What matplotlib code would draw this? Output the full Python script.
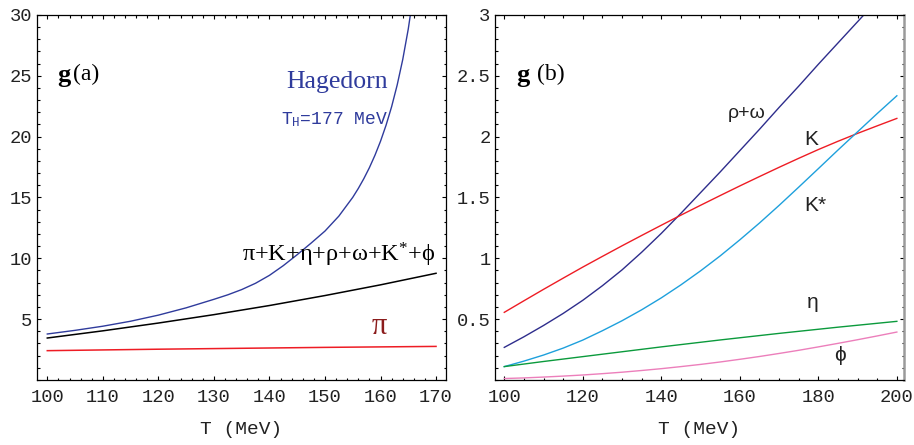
import matplotlib
matplotlib.use("Agg")
import matplotlib.pyplot as plt
from matplotlib.ticker import MultipleLocator, FixedLocator

plt.rcParams['mathtext.fontset'] = 'custom'
plt.rcParams['mathtext.rm'] = 'Liberation Serif'
plt.rcParams['mathtext.it'] = 'Liberation Serif:italic'
plt.rcParams['mathtext.bf'] = 'Liberation Serif:bold'

# ---------------- data: panel (a) ----------------
T_hag = [100, 105, 110, 115, 120, 125, 127.5, 130, 132.5, 135, 137.5, 140, 142.5,
         145, 147.5, 150, 152.5, 155, 156, 157, 158, 159, 160, 161, 162, 163,
         164, 165, 166]
g_hag = [3.78, 4.08, 4.42, 4.83, 5.33, 5.93, 6.28, 6.63, 7.00, 7.43, 7.95, 8.60,
         9.40, 10.30, 11.25, 12.24, 13.47, 15.01, 15.74, 16.55, 17.45, 18.47,
         19.62, 20.94, 22.46, 24.24, 26.33, 28.85, 31.93]

T_a = [100, 110, 120, 130, 140, 150, 160, 170]
g_sum = [3.45, 4.04, 4.68, 5.37, 6.12, 6.94, 7.82, 8.77]
g_pi = [2.41, 2.47, 2.53, 2.58, 2.63, 2.68, 2.72, 2.76]

xticks_a = [100, 110, 120, 130, 140, 150, 160, 170]
yticks_a = [5, 10, 15, 20, 25, 30]

# ---------------- data: panel (b) ----------------
T_b = [100, 105, 110, 115, 120, 125, 130, 135, 140, 145, 150, 155, 160, 165,
       170, 175, 180, 185, 190, 195, 200]
g_K = [0.556, 0.651, 0.745, 0.837, 0.928, 1.016, 1.103, 1.188, 1.272, 1.355,
       1.436, 1.516, 1.595, 1.672, 1.748, 1.822, 1.894, 1.962, 2.027, 2.089, 2.15]
g_Kstar = [0.11, 0.155, 0.205, 0.262, 0.328, 0.405, 0.487, 0.577, 0.675, 0.782,
           0.897, 1.02, 1.152, 1.29, 1.435, 1.585, 1.737, 1.89, 2.04, 2.19, 2.336]
g_eta = [0.11, 0.131, 0.152, 0.172, 0.192, 0.212, 0.232, 0.252, 0.272, 0.291,
         0.31, 0.329, 0.347, 0.365, 0.383, 0.40, 0.417, 0.434, 0.45, 0.466, 0.482]
g_phi = [0.012, 0.017, 0.024, 0.032, 0.041, 0.052, 0.064, 0.078, 0.093, 0.110,
         0.128, 0.148, 0.170, 0.193, 0.218, 0.244, 0.272, 0.301, 0.331, 0.362, 0.394]
T_rho = [100, 105, 110, 115, 120, 125, 130, 135, 140, 145, 150, 155, 160, 165,
         170, 175, 180, 185, 190, 195]
g_rho = [0.268, 0.355, 0.448, 0.547, 0.655, 0.775, 0.905, 1.05, 1.205, 1.37,
         1.54, 1.71, 1.885, 2.06, 2.24, 2.415, 2.595, 2.77, 2.945, 3.12]

xticks_b = [100, 120, 140, 160, 180, 200]
yticks_b = [0.5, 1, 1.5, 2, 2.5, 3]
yticklabels_b = ["0.5", "1", "1.5", "2", "2.5", "3"]

# colours
c_hag = '#2f3b9c'
c_red = '#ee1c24'
c_pilab = '#8b1c1c'
c_rho = '#2e2d8c'
c_kstar = '#1ea0dc'
c_eta = '#0b9a3c'
c_phi = '#ec7fbb'

mono = 'Liberation Mono'
serif = ['Liberation Serif', 'DejaVu Serif']
sans = ['Liberation Sans', 'DejaVu Sans']

fig = plt.figure(figsize=(9.14, 4.45), dpi=100)
axA = fig.add_axes([0.0402, 0.1461, 0.4478, 0.8202])
axB = fig.add_axes([0.5412, 0.1461, 0.4482, 0.8202])


def style(ax):
    ax.tick_params(which='both', direction='in', top=True, right=True,
                   width=0.8, colors='black')
    ax.tick_params(which='major', length=3.2, pad=3)
    ax.tick_params(which='minor', length=1.8)
    ax.tick_params(axis='x', which='major', pad=6.5)
    for lab in ax.get_xticklabels() + ax.get_yticklabels():
        lab.set_fontfamily(mono)
        lab.set_fontsize(13.5)
        lab.set_color('#222222')
    for s in ax.spines.values():
        s.set_linewidth(0.9)


# ---- panel (a)
axA.plot(T_hag, g_hag, color=c_hag, lw=1.0)
axA.plot(T_a, g_sum, color='black', lw=1.1)
axA.plot(T_a, g_pi, color=c_red, lw=1.1)
axA.set_xlim(98.1, 171.8)
axA.set_ylim(0, 30)
axA.xaxis.set_major_locator(FixedLocator(xticks_a))
axA.xaxis.set_minor_locator(MultipleLocator(2))
axA.yaxis.set_major_locator(FixedLocator(yticks_a))
axA.yaxis.set_minor_locator(MultipleLocator(1))
axA.set_xticklabels([str(v) for v in xticks_a])
axA.set_yticklabels([str(v) for v in yticks_a])
style(axA)
axA.set_xlabel('T (MeV)', fontfamily=mono, fontsize=14, labelpad=11, color='#222222')

axA.text(101.7, 25.0, r'$\mathbf{g}$', fontsize=19, va='center', ha='left')
axA.text(104.7, 25.1, '(a)', fontfamily=serif, fontsize=17, va='center', ha='left')
axA.text(152.2, 24.5, 'Hagedorn', fontfamily=serif, fontsize=18.5, color=c_hag,
         ha='center', va='center')
axA.text(151.8, 21.4, r'T$_{\mathregular{H}}$=177 MeV', fontfamily=mono, fontsize=13,
         color=c_hag, ha='center', va='center')
axA.text(152.4, 9.75, r'π+K+η+ρ+ω+K$^{*}$+ϕ', fontfamily=serif, fontsize=17.5,
         color='black', ha='center', va='baseline')
axA.text(159.7, 4.4, 'π', fontfamily=serif, fontsize=22, color=c_pilab,
         ha='center', va='center')

# ---- panel (b)
axB.plot(T_rho, g_rho, color=c_rho, lw=1.0)
axB.plot(T_b, g_K, color=c_red, lw=1.0)
axB.plot(T_b, g_Kstar, color=c_kstar, lw=1.0)
axB.plot(T_b, g_eta, color=c_eta, lw=1.0)
axB.plot(T_b, g_phi, color=c_phi, lw=1.0)
axB.set_xlim(97.55, 201.9)
axB.set_ylim(0, 3)
axB.xaxis.set_major_locator(FixedLocator(xticks_b))
axB.xaxis.set_minor_locator(MultipleLocator(5))
axB.yaxis.set_major_locator(FixedLocator(yticks_b))
axB.yaxis.set_minor_locator(MultipleLocator(0.1))
axB.set_xticklabels([str(v) for v in xticks_b])
axB.set_yticklabels(yticklabels_b)
style(axB)
axB.spines['right'].set_color('#9a9a9a')
axB.spines['right'].set_linewidth(1.8)
axB.set_xlabel('T (MeV)', fontfamily=mono, fontsize=14, labelpad=11, color='#222222')

axB.text(102.9, 2.5, r'$\mathbf{g}$', fontsize=19, va='center', ha='left')
axB.text(108.3, 2.51, '(b)', fontfamily=serif, fontsize=17, va='center', ha='left')
axB.text(161.8, 2.15, 'ρ+ω', fontfamily=sans, fontsize=14, ha='center', va='baseline',
         color='#222222')
axB.text(178.3, 1.93, 'K', fontfamily=sans, fontsize=15, ha='center', va='baseline',
         color='#222222')
axB.text(176.4, 1.39, 'K*', fontfamily=sans, fontsize=15, ha='left', va='baseline',
         color='#222222')
axB.text(178.6, 0.59, 'η', fontfamily=sans, fontsize=15, ha='center', va='baseline',
         color='#222222')
axB.text(185.6, 0.205, 'ϕ', fontfamily=sans, fontsize=15, ha='center', va='center',
         color='#222222')

fig.savefig('out.png', dpi=100)
